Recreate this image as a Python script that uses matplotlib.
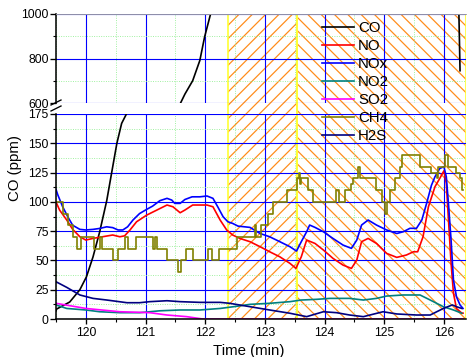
import matplotlib
matplotlib.use("Agg")
import matplotlib.pyplot as plt
from matplotlib.lines import Line2D
from matplotlib.ticker import MultipleLocator

plt.rcParams['font.family'] = ['Liberation Sans', 'DejaVu Sans']
plt.rcParams['hatch.linewidth'] = 1.1

# ---------------- data (time in min, concentration in ppm) ----------------
co_t = [119.50, 119.51, 119.73, 119.90, 120.01, 120.12, 120.23, 120.35, 120.44, 120.52,
        120.60, 120.69, 120.75, 121.58, 121.66, 121.79, 121.91, 121.99, 122.09, 122.16,
        126.24, 126.27]
co_v = [7, 8.5, 14.5, 25, 36, 53, 74, 101, 127, 150,
        167, 176, 180, 596, 640, 700, 791, 897, 1000, 1100,
        1150, 745]

nox_t = [119.50, 119.53, 119.61, 119.70, 119.78, 119.90, 120.00, 120.12, 120.23, 120.35,
         120.45, 120.54, 120.62, 120.70, 120.79, 120.90, 121.02, 121.12, 121.24, 121.36,
         121.44, 121.49, 121.58, 121.66, 121.78, 121.91, 122.03, 122.13, 122.21, 122.30,
         122.38, 122.46, 122.55, 122.75, 122.92, 123.08, 123.25, 123.42, 123.53, 123.61,
         123.70, 123.75, 123.84, 123.98, 124.14, 124.31, 124.45, 124.54, 124.62, 124.73,
         124.87, 125.04, 125.21, 125.32, 125.43, 125.54, 125.63, 125.71, 125.79, 125.85,
         125.93, 126.00, 126.04, 126.08, 126.12, 126.16, 126.21, 126.27, 126.32]
nox_v = [110.6, 106, 96, 87, 80, 76.5, 76, 76.5, 77.3, 78.7,
         78, 76, 76, 78.7, 84.5, 90, 93.6, 96.4, 101, 103,
         101.5, 98.7, 98.7, 102, 104.3, 104.3, 105, 103, 95.8, 87.3,
         83, 81.6, 79.3, 78.2, 73, 70.2, 66, 61.7, 58, 66,
         74.5, 80.2, 78.2, 74.5, 68.8, 63.1, 60.3, 67.4, 80.2, 84.5,
         80.2, 76, 73, 74.5, 77.4, 77.4, 84.5, 98.7, 114, 121.4,
         128.5, 130, 121.4, 95.8, 67.4, 33.3, 19, 12, 9]

no_t = [119.50, 119.56, 119.68, 119.78, 119.90, 120.00, 120.12, 120.28, 120.45, 120.57,
        120.65, 120.74, 120.85, 121.02, 121.19, 121.36, 121.46, 121.58, 121.66, 121.79,
        122.03, 122.13, 122.25, 122.36, 122.46, 122.58, 122.75, 122.92, 123.08, 123.25,
        123.42, 123.52, 123.61, 123.70, 123.84, 123.98, 124.14, 124.31, 124.45, 124.54,
        124.62, 124.73, 124.87, 125.04, 125.21, 125.37, 125.49, 125.56, 125.65, 125.74,
        125.85, 125.93, 126.00, 126.04, 126.08, 126.12, 126.16, 126.21, 126.30, 126.32]
no_v = [100, 93, 84.5, 76.5, 70.2, 67.4, 68.8, 70.2, 71.7, 70.2,
        71, 76, 83, 88.7, 93, 97.3, 95.8, 90.7, 93, 97.3,
        97.3, 95.8, 84.5, 76, 71.7, 68.8, 66, 61.7, 57.4, 53.1,
        47.5, 43.2, 53.1, 67.4, 64.5, 58.9, 51.8, 46, 43.2, 50.3,
        66, 68.8, 64.5, 56, 52.6, 54.6, 57.4, 57.4, 70.2, 95.8,
        112.9, 120, 126.5, 115.7, 81.6, 47.5, 22, 9, 5, 5]

no2_t = [119.50, 119.68, 120.00, 120.23, 120.57, 120.90, 121.24, 121.58, 121.91, 122.25,
         122.55, 122.75, 123.08, 123.42, 123.61, 123.87, 124.09, 124.42, 124.65, 124.87,
         125.04, 125.32, 125.60, 125.77, 125.99, 126.16, 126.30]
no2_v = [12, 9, 7.7, 6.2, 5.4, 5.4, 7, 7.7, 7.7, 9,
         11, 12.5, 13.4, 14.8, 16.2, 16.8, 17.6, 17.6, 16.2, 17.6,
         19.6, 20.5, 20.5, 16.2, 10.5, 7.7, 4.9]

so2_t = [119.50, 120.00, 120.57, 121.07, 121.36, 121.69, 121.96, 126.32]
so2_v = [13.4, 9, 6.2, 5.4, 3.4, 2, 0, 0]

ch4_t = [119.50, 119.61, 119.70, 119.78, 119.85, 119.92, 120.13, 120.23, 120.27, 120.45,
         120.54, 120.65, 120.70, 120.84, 121.12, 121.16, 121.19, 121.36, 121.54, 121.59,
         121.68, 121.80, 122.04, 122.11, 122.23, 122.53, 122.83, 122.85, 122.93, 123.05,
         123.13, 123.37, 123.54, 123.57, 123.59, 123.61, 123.73, 123.80, 124.20, 124.24,
         124.34, 124.45, 124.48, 124.56, 124.59, 124.87, 124.96, 125.01, 125.04, 125.09,
         125.18, 125.26, 125.29, 125.60, 125.79, 125.88, 125.90, 126.02, 126.07, 126.21,
         126.27, 126.31, 126.32]
ch4_v = [100, 90, 80, 70, 60, 70, 60, 70, 60, 50,
         60, 70, 60, 70, 60, 70, 60, 50, 40, 50,
         60, 50, 60, 50, 60, 70, 80, 70, 80, 90,
         100, 110, 120, 125, 115, 120, 110, 100, 110, 100,
         110, 115, 120, 130, 120, 110, 100, 90, 100, 110,
         120, 130, 140, 130, 125, 120, 130, 140, 130, 125,
         120, 110, 110]

h2s_t = [119.50, 119.68, 119.90, 120.12, 120.35, 120.69, 120.90, 121.07, 121.36, 121.58,
         121.91, 122.25, 122.41, 122.75, 123.08, 123.42, 123.70, 123.98, 124.20, 124.42,
         124.65, 124.98, 125.21, 125.54, 125.77, 125.99, 126.14, 126.21, 126.30]
h2s_v = [31.8, 27, 20.5, 17.6, 16.2, 13.9, 13.9, 14.8, 15.6, 14.8,
         14.2, 14.2, 13.4, 10.5, 7.7, 4.9, 2, 6.2, 5.4, 3.4,
         2, 6.2, 4.3, 3.4, 3.4, 9, 12, 10.5, 9]

series = [
    ("CO", co_t, co_v, "#000000", "default"),
    ("NO", no_t, no_v, "#FF0000", "default"),
    ("NOx", nox_t, nox_v, "#0000FF", "default"),
    ("NO2", no2_t, no2_v, "#008080", "default"),
    ("SO2", so2_t, so2_v, "#FF00FF", "default"),
    ("CH4", ch4_t, ch4_v, "#808000", "steps-post"),
    ("H2S", h2s_t, h2s_v, "#000080", "default"),
]

span1 = (122.38, 123.54)
span2 = (123.54, 126.37)
xlim = (119.5, 126.37)

# ---------------- figure ----------------
W, H, DPI = 468, 357, 80
fig = plt.figure(figsize=(W / DPI, H / DPI), dpi=DPI)

def rect(x0, y0, x1, y1):
    return [x0 / W, 1 - y1 / H, (x1 - x0) / W, (y1 - y0) / H]

bg = fig.add_axes(rect(56, 14, 466, 319), zorder=0)
bg.set_xlim(*xlim)
bg.set_ylim(0, 1)
bg.axis('off')
bg.axvspan(*span1, facecolor='none', edgecolor='#FF8C1A', hatch='//', lw=0)
bg.axvspan(*span2, facecolor='none', edgecolor='#FF8C1A', hatch='\\\\', lw=0)
bg.axvspan(*span1, facecolor='none', edgecolor='#FFFF33', lw=1.5)
bg.axvspan(*span2, facecolor='none', edgecolor='#FFFF33', lw=1.5)

axt = fig.add_axes(rect(56, 14, 466, 103), zorder=1)
axb = fig.add_axes(rect(56, 114, 466, 319), zorder=1)

for ax in (axt, axb):
    ax.patch.set_alpha(0)
    ax.set_xlim(*xlim)
    ax.set_axisbelow(True)
    ax.xaxis.set_major_locator(MultipleLocator(1))
    ax.xaxis.set_minor_locator(MultipleLocator(0.5))
    ax.grid(which='major', color='#0000FF', lw=1.0)
    ax.grid(which='minor', color='#90EE90', lw=0.8, ls=':')
    ax.spines['right'].set_visible(False)
    ax.spines['left'].set_linewidth(1.4)
    ax.tick_params(axis='y', which='major', direction='out', length=5, width=1.2,
                   labelsize=11, pad=1.5)
    ax.tick_params(axis='y', which='minor', direction='out', length=2.5, width=1.0)
    for name, t, v, c, ds in series:
        ax.plot(t, v, color=c, lw=1.5, drawstyle=ds, label=name)

axt.set_ylim(600, 1000)
axt.yaxis.set_major_locator(MultipleLocator(200))
axt.yaxis.set_minor_locator(MultipleLocator(100))
axt.spines['bottom'].set_visible(False)
axt.spines['top'].set_color('#A0A0A0')
axt.tick_params(axis='x', which='both', bottom=False, labelbottom=False)

axb.set_ylim(0, 175)
axb.yaxis.set_major_locator(MultipleLocator(25))
axb.yaxis.set_minor_locator(MultipleLocator(12.5))
axb.spines['top'].set_visible(False)
axb.spines['bottom'].set_linewidth(1.4)
axb.tick_params(axis='x', which='major', direction='out', length=4.5, width=1.2,
                labelsize=11, pad=3)
axb.tick_params(axis='x', which='minor', direction='out', length=2.5, width=1.0)

# axis break marks on the left spine
for yy in (102.5, 108.5):
    fig.add_artist(Line2D([51 / W, 61 / W], [1 - (yy + 2.5) / H, 1 - (yy - 2.5) / H],
                          color='black', lw=1.2))

fig.text(15 / W, 1 - 168 / H, "CO (ppm)", rotation=90, ha='center', va='center',
         fontsize=13.5)
fig.text(249 / W, 1 - 355.5 / H, "Time (min)", ha='center', va='baseline',
         fontsize=13.5)

handles, labels = axb.get_legend_handles_labels()
fig.legend(handles, labels, loc='upper left', bbox_to_anchor=(322 / W, 1 - 21 / H),
           frameon=False, fontsize=13.5, handlelength=2.1, handletextpad=0.3,
           labelspacing=0.27, borderpad=0, borderaxespad=0)

fig.savefig("out.png", dpi=DPI)
